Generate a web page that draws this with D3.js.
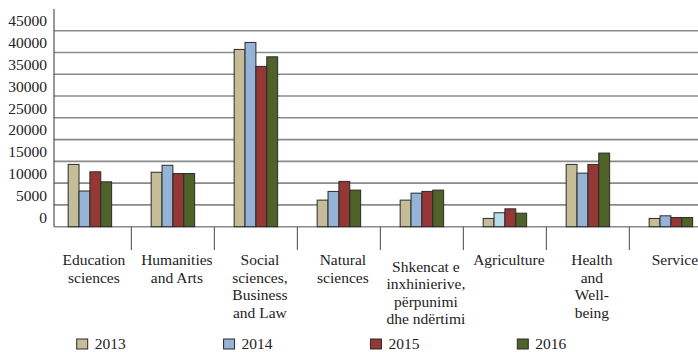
<!DOCTYPE html>
<html>
<head>
<meta charset="utf-8">
<script src="https://cdn.jsdelivr.net/npm/d3@7"></script>
<style>
  body { margin: 0; background: #fff; }
  #chart { position: relative; width: 698px; height: 352px; overflow: hidden; }
  #chart svg { position: absolute; left: 0; top: 0; }
  .lbl { position: absolute; font-family: 'Liberation Serif'; font-size: 15.5px; line-height: 17.4px;
         color: #222; white-space: nowrap; }
</style>
</head>
<body>
<div id="chart"></div>
<script>
// Graduates by field of study, 2013-2016

const categories = ['Education sciences', 'Humanities and Arts', 'Social sciences, Business and Law',
  'Natural sciences', 'Shkencat e inxhinierive, përpunimi dhe ndërtimi', 'Agriculture',
  'Health and Well-being', 'Service'];
const categoryLines = [
  ['Education', 'sciences'],
  ['Humanities', 'and Arts'],
  ['Social', 'sciences,', 'Business', 'and Law'],
  ['Natural', 'sciences'],
  ['Shkencat e', 'inxhinierive,', 'përpunimi', 'dhe ndërtimi'],
  ['Agriculture'],
  ['Health', 'and', 'Well-', 'being'],
  ['Service']
];
const years = ['2013', '2014', '2015', '2016'];
const values2013 = [14300, 12500, 40700, 6100, 6100, 1900, 14300, 1900];
const values2014 = [8200, 14100, 42300, 8100, 7700, 3200, 12300, 2500];
const values2015 = [12600, 12200, 36800, 10400, 8100, 4100, 14300, 2100];
const values2016 = [10300, 12200, 39000, 8400, 8400, 3100, 16900, 2100];
const yTicks = [0, 5000, 10000, 15000, 20000, 25000, 30000, 35000, 40000, 45000];

const series = [values2013, values2014, values2015, values2016];
const colors = ['#c4bd97', '#95b3d7', '#953735', '#4f6228'];

function renderChart(sel) {
  const W = 698, H = 352;
  const root = d3.select(sel);
  const svg = root.append('svg').attr('width', W).attr('height', H);

  const axisX = 54, baseY = 226.7, topY = 8.9;
  const half = 8.7; // half line height, to centre html labels

  const y = d3.scaleLinear().domain([0, 50000]).range([baseY, topY]);

  // outer band per category, inner band per year
  const x0 = d3.scaleBand().domain(categories).range([48.4, 712.4]).paddingInner(0.476).paddingOuter(0.238);
  const x1 = d3.scaleBand().domain(years).range([0, x0.bandwidth()]);

  // gridlines
  svg.append('g').selectAll('line')
    .data(yTicks)
    .enter().append('line')
    .attr('x1', axisX).attr('x2', W)
    .attr('y1', d => y(d)).attr('y2', d => y(d))
    .attr('stroke', '#8a8a8a').attr('stroke-width', 1.6);

  // y axis line
  svg.append('line')
    .attr('x1', axisX).attr('x2', axisX).attr('y1', topY).attr('y2', baseY)
    .attr('stroke', '#333').attr('stroke-width', 1);

  // bars
  const groups = svg.append('g').selectAll('g')
    .data(categories)
    .enter().append('g')
    .attr('transform', d => `translate(${x0(d)},0)`);

  groups.selectAll('rect')
    .data((c, i) => years.map((yr, j) => ({ cat: c, year: yr, j, value: series[j][i] })))
    .enter().append('rect')
    .attr('x', d => x1(d.year))
    .attr('y', d => y(d.value))
    .attr('width', x1.bandwidth())
    .attr('height', d => baseY - y(d.value))
    .attr('fill', d => (d.cat === 'Agriculture' && d.year === '2014') ? '#b7dde8' : colors[d.j])
    .attr('stroke', '#2a2a2a').attr('stroke-width', 1);

  // category separators below the axis
  const step = x0.step();
  svg.append('g').selectAll('line')
    .data(categories.slice(1))
    .enter().append('line')
    .attr('x1', d => x0(d) - step * 0.238).attr('x2', d => x0(d) - step * 0.238)
    .attr('y1', baseY).attr('y2', 250)
    .attr('stroke', '#666').attr('stroke-width', 1.2);

  // legend swatches
  const lx = d3.scalePoint().domain(years).range([76.7, 517.3]);
  svg.append('g').selectAll('rect')
    .data(years)
    .enter().append('rect')
    .attr('x', d => lx(d)).attr('y', 339).attr('width', 11).attr('height', 10)
    .attr('fill', (d, i) => colors[i]).attr('stroke', '#2a2a2a').attr('stroke-width', 1);

  // --- text as html (the svg text would not pick up the serif face) ---

  // y labels, sitting a bit above their gridline as in the source
  root.selectAll('.ylbl')
    .data(yTicks)
    .enter().append('div')
    .attr('class', 'lbl ylbl')
    .style('right', (W - 47) + 'px')
    .style('top', d => (y(d) - 9.5 - half) + 'px')
    .text(d => d);

  // category labels
  root.selectAll('.xlbl')
    .data(categories)
    .enter().append('div')
    .attr('class', 'lbl xlbl')
    .style('width', '120px')
    .style('text-align', 'center')
    .style('left', d => (x0(d) + x0.bandwidth() / 2 + 4 - 60) + 'px')
    .style('top', (d, i) => ((i === 4 ? 266.7 : 260) - half) + 'px')
    .html((d, i) => categoryLines[i].join('<br>'));

  // legend labels
  root.selectAll('.leglbl')
    .data(years)
    .enter().append('div')
    .attr('class', 'lbl leglbl')
    .style('left', d => (lx(d) + 18) + 'px')
    .style('top', (344 - half) + 'px')
    .text(d => d);
}

renderChart('#chart');
</script>
</body>
</html>
